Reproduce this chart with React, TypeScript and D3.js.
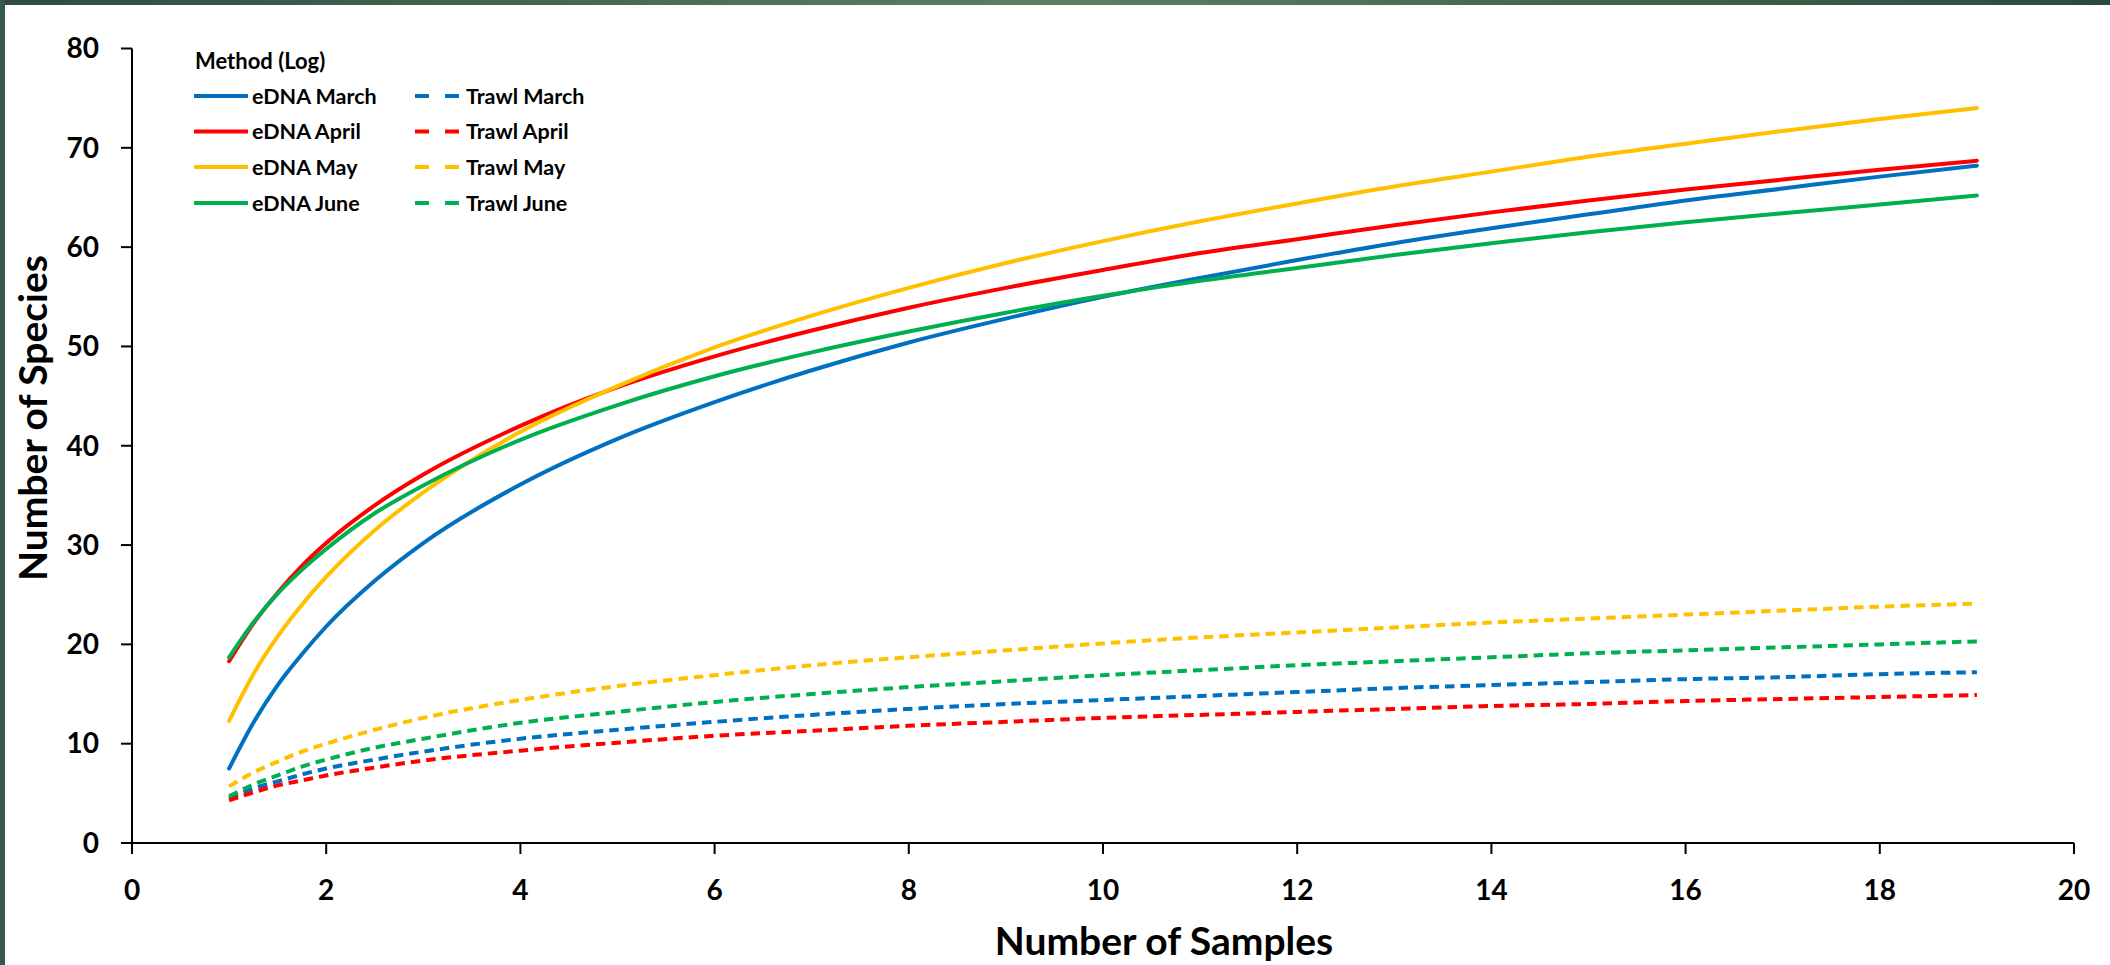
import React from "react";
import * as d3 from "d3";

const samples = [1, 1.25, 1.5, 1.75, 2, 2.5, 3, 4, 5, 6, 7, 8, 9, 10, 11, 12, 13, 14, 15, 16, 17, 18, 19];

const ednaMarch = [7.5, 12.1, 15.9, 19.0, 21.8, 26.4, 30.2, 36.1, 40.7, 44.4, 47.6, 50.4, 52.8, 55.0, 56.9, 58.7, 60.4, 61.9, 63.3, 64.7, 65.9, 67.1, 68.2];
const trawlMarch = [4.5, 5.5, 6.2, 6.9, 7.5, 8.4, 9.2, 10.5, 11.4, 12.2, 12.9, 13.5, 14.0, 14.4, 14.8, 15.2, 15.6, 15.9, 16.2, 16.5, 16.7, 17.0, 17.2];
const ednaApril = [18.3, 22.1, 25.2, 27.9, 30.2, 34.0, 37.1, 42.0, 45.9, 49.0, 51.6, 53.9, 55.9, 57.7, 59.4, 60.8, 62.2, 63.5, 64.7, 65.8, 66.8, 67.8, 68.7];
const trawlApril = [4.3, 5.1, 5.8, 6.3, 6.8, 7.6, 8.3, 9.3, 10.1, 10.8, 11.3, 11.8, 12.2, 12.6, 12.9, 13.2, 13.5, 13.8, 14.0, 14.3, 14.5, 14.7, 14.9];
const ednaMay = [12.3, 17.0, 20.8, 24.0, 26.8, 31.5, 35.3, 41.4, 46.0, 49.9, 53.1, 55.9, 58.4, 60.6, 62.6, 64.4, 66.1, 67.6, 69.1, 70.4, 71.7, 72.9, 74.0];
const trawlMay = [5.7, 7.1, 8.2, 9.2, 10.0, 11.4, 12.6, 14.4, 15.8, 16.9, 17.9, 18.7, 19.4, 20.1, 20.7, 21.2, 21.7, 22.2, 22.6, 23.0, 23.4, 23.8, 24.1];
const ednaJune = [18.7, 22.2, 25.1, 27.5, 29.6, 33.2, 36.0, 40.6, 44.1, 47.0, 49.4, 51.5, 53.4, 55.1, 56.6, 57.9, 59.2, 60.4, 61.5, 62.5, 63.4, 64.3, 65.2];
const trawlJune = [4.7, 5.9, 6.8, 7.7, 8.4, 9.6, 10.5, 12.1, 13.2, 14.2, 15.0, 15.7, 16.3, 16.9, 17.4, 17.9, 18.3, 18.7, 19.1, 19.4, 19.7, 20.0, 20.3];

const seriesNames = ["eDNA March", "Trawl March", "eDNA April", "Trawl April", "eDNA May", "Trawl May", "eDNA June", "Trawl June"];
const seriesValues = [ednaMarch, trawlMarch, ednaApril, trawlApril, ednaMay, trawlMay, ednaJune, trawlJune];
const seriesColors = ["#0070C0", "#0070C0", "#FF0000", "#FF0000", "#FFC000", "#FFC000", "#00B050", "#00B050"];
const seriesDashed = [false, true, false, true, false, true, false, true];

const legendTitle = "Method (Log)";
const xTitle = "Number of Samples";
const yTitle = "Number of Species";

const W = 2110;
const H = 965;
const FONT = "Lato, 'Open Sans', 'DejaVu Sans', sans-serif";

export default function App() {
  const x = d3.scaleLinear().domain([0, 20]).range([132, 2074]);
  const y = d3.scaleLinear().domain([0, 80]).range([843, 48.5]);
  const line = d3
    .line<[number, number]>()
    .x((d) => x(d[0]))
    .y((d) => y(d[1]))
    .curve(d3.curveMonotoneX);

  const xTicks = x.ticks(10);
  const yTicks = y.ticks(8);

  const legendRows = [96, 131.5, 167, 203];

  return (
    <svg
      width={W}
      height={H}
      style={{ position: "absolute", left: 0, top: 0, display: "block", background: "#fff" }}
      fontFamily={FONT}
    >
      <defs>
        <linearGradient id="topband" x1="0" x2="1" y1="0" y2="0">
          <stop offset="0" stopColor="#2f4c3e" />
          <stop offset="0.5" stopColor="#5d7f66" />
          <stop offset="1" stopColor="#2c4a3b" />
        </linearGradient>
      </defs>
      <rect x={0} y={0} width={W} height={H} fill="#ffffff" />
      <rect x={0} y={0} width={W} height={5} fill="url(#topband)" />
      <rect x={0} y={0} width={5} height={H} fill="#37594a" />

      {/* series */}
      {seriesValues.map((vals, i) => (
        <path
          key={seriesNames[i]}
          d={line(samples.map((s, j) => [s, vals[j]] as [number, number])) || ""}
          fill="none"
          stroke={seriesColors[i]}
          strokeWidth={4}
          strokeLinecap={seriesDashed[i] ? "butt" : "round"}
          strokeDasharray={seriesDashed[i] ? "9.5,6" : undefined}
        />
      ))}

      {/* axes */}
      <line x1={x(0)} x2={x(20)} y1={y(0)} y2={y(0)} stroke="#000" strokeWidth={2} />
      <line x1={x(0)} x2={x(0)} y1={y(0)} y2={y(80)} stroke="#000" strokeWidth={2} />
      {xTicks.map((t) => (
        <g key={"xt" + t}>
          <line x1={x(t)} x2={x(t)} y1={y(0)} y2={y(0) + 11} stroke="#000" strokeWidth={2} />
          <text x={x(t)} y={900} textAnchor="middle" fontSize={28} fontWeight={700} fill="#000">
            {t}
          </text>
        </g>
      ))}
      {yTicks.map((t) => (
        <g key={"yt" + t}>
          <line x1={x(0) - 11} x2={x(0)} y1={y(t)} y2={y(t)} stroke="#000" strokeWidth={2} />
          <text x={99} y={y(t)} dy="0.35em" textAnchor="end" fontSize={28} fontWeight={700} fill="#000">
            {t}
          </text>
        </g>
      ))}

      {/* axis titles */}
      <text x={1164} y={955} textAnchor="middle" fontSize={39} fontWeight={700} fill="#000">
        {xTitle}
      </text>
      <text
        transform={`translate(47,418) rotate(-90)`}
        textAnchor="middle"
        fontSize={39}
        fontWeight={700}
        fill="#000"
      >
        {yTitle}
      </text>

      {/* legend */}
      <text x={195} y={69} fontSize={22} fontWeight={700} fill="#000">
        {legendTitle}
      </text>
      {seriesNames.map((name, i) => {
        const col = i % 2;
        const row = Math.floor(i / 2);
        const ly = legendRows[row];
        const lx0 = col === 0 ? 194 : 415;
        const lx1 = col === 0 ? 248 : 460;
        const tx = col === 0 ? 252 : 466;
        return (
          <g key={"lg" + name}>
            <line
              x1={lx0}
              x2={lx1}
              y1={ly}
              y2={ly}
              stroke={seriesColors[i]}
              strokeWidth={4}
              strokeLinecap="butt"
              strokeDasharray={seriesDashed[i] ? "14,16" : undefined}
            />
            <text x={tx} y={ly} dy="0.36em" fontSize={21.5} fontWeight={700} fill="#000">
              {name}
            </text>
          </g>
        );
      })}
    </svg>
  );
}
